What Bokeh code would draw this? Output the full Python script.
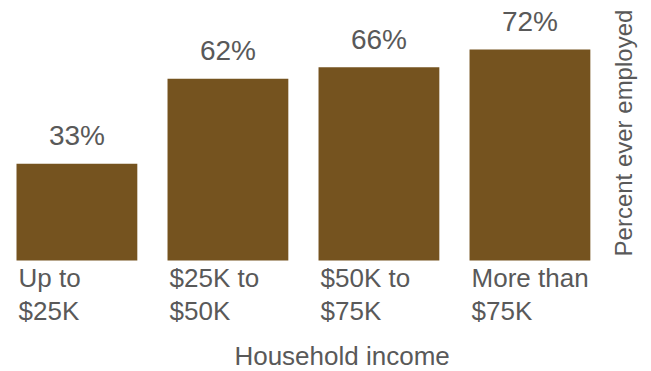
from bokeh.plotting import figure
from bokeh.models import Range1d, ColumnDataSource, Label
from bokeh.embed import file_html
from bokeh.resources import INLINE
from bokeh.core.properties import value
import math

# Data
categories = ["Up to\n$25K", "$25K to\n$50K", "$50K to\n$75K", "More than\n$75K"]
percent_ever_employed = [33, 62, 66, 72]
x_title = "Household income"
y_title = "Percent ever employed"

BAR = "#75531f"
TXT = "#595959"
FONT = "Liberation Sans"

idx = list(range(len(categories)))
line1 = [c.split("\n")[0] for c in categories]
line2 = [c.split("\n")[1] for c in categories]
bar_w = 0.8

src = ColumnDataSource(dict(
    x=idx,
    top=percent_ever_employed,
    left=[i - bar_w / 2 for i in idx],
    zero=[0] * len(idx),
    lab=[f"{v}%" for v in percent_ever_employed],
    l1=line1,
    l2=line2,
))

p = figure(width=651, height=371, output_backend="svg", toolbar_location=None,
           x_range=Range1d(-0.506, 3.805), y_range=Range1d(-37.88, 88.74),
           min_border=0, min_border_left=0, min_border_right=0,
           min_border_top=0, min_border_bottom=0)
p.axis.visible = False
p.grid.visible = False
p.outline_line_color = None
p.background_fill_color = "white"
p.border_fill_color = "white"

p.vbar(x="x", top="top", width=bar_w, source=src, fill_color=BAR, line_color=None)

p.text(x="x", y="top", text="lab", source=src, text_align="center",
       text_baseline="alphabetic", y_offset=-28, text_color=TXT,
       text_font=value(FONT), text_font_size="28px")

p.text(x="left", y="zero", text="l1", source=src, text_align="left",
       text_baseline="alphabetic", x_offset=2, y_offset=17.5, text_color=TXT,
       text_font=value(FONT), text_font_size="26px")
p.text(x="left", y="zero", text="l2", source=src, text_align="left",
       text_baseline="alphabetic", x_offset=2, y_offset=50.5, text_color=TXT,
       text_font=value(FONT), text_font_size="26px")

p.add_layout(Label(x=1.756, y=-32.6, text=x_title, text_align="center",
                   text_baseline="alphabetic", text_color=TXT,
                   text_font=FONT, text_font_size="26px"))
p.add_layout(Label(x=3.617, y=43.5, text=y_title, angle=math.pi / 2,
                   text_align="center", text_baseline="alphabetic",
                   text_color=TXT, text_font=FONT, text_font_size="24px"))

open("out.html", "w").write(file_html(p, INLINE))
